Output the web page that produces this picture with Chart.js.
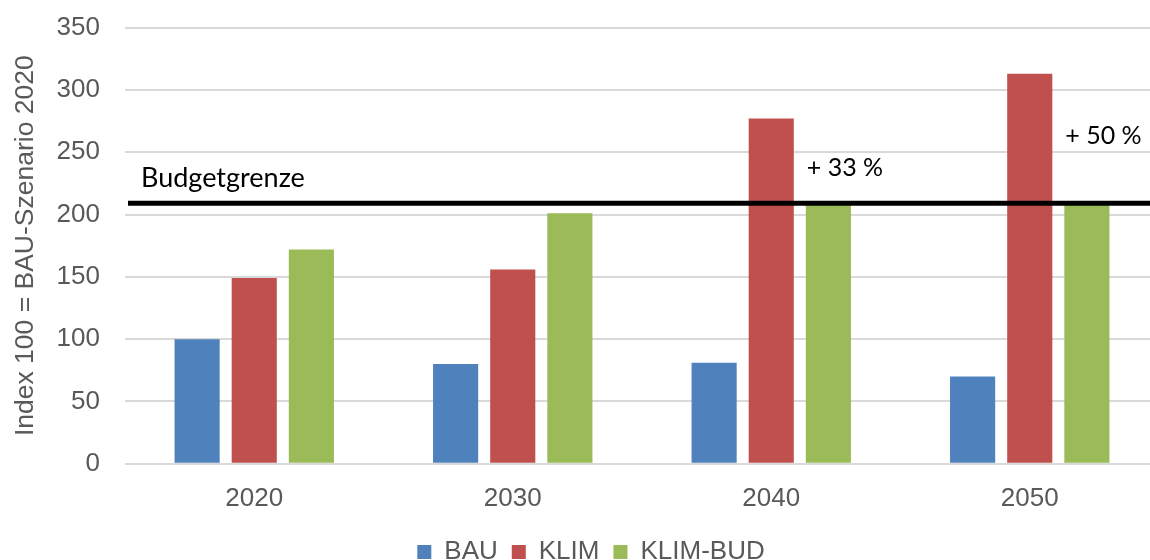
<!DOCTYPE html>
<html lang="de">
<head>
<meta charset="utf-8">
<title>Index BAU / KLIM / KLIM-BUD</title>
<script src="https://cdn.jsdelivr.net/npm/chart.js@4.4.1/dist/chart.umd.min.js"></script>
<style>
  html, body { margin: 0; padding: 0; background: #ffffff; overflow: hidden; }
  #frame { width: 1150px; height: 560px; overflow: hidden; position: relative; }
  #box { width: 1182px; height: 575px; position: absolute; left: 0; top: 0; }
</style>
</head>
<body>
<div id="frame"><div id="box"><canvas id="chart"></canvas></div></div>
<script>
// Jahre und Indexwerte (BAU-Szenario 2020 = 100)
const years = ['2020', '2030', '2040', '2050'];
const bau = [100, 80, 81, 70];
const klim = [149, 156, 277, 313];
const klimBud = [172, 201, 209, 209];
const budgetLimit = 209;
const yTicks = [0, 50, 100, 150, 200, 250, 300, 350];
const seriesNames = ['BAU', 'KLIM', 'KLIM-BUD'];
const seriesColors = ['#4F81BD', '#C0504D', '#9BBB59'];

const tickGrey = '#595959';
const axisFont = { family: '"Liberation Sans", Arial, sans-serif', size: 26 };

// Budgetgrenze als waagrechte Linie, dazu die Überschreitung von KLIM in Prozent
const budgetPlugin = {
  id: 'budgetLine',
  afterDatasetsDraw(chart, args, opts) {
    const { ctx, chartArea, scales } = chart;
    const y = scales.y.getPixelForValue(opts.value);
    ctx.save();
    ctx.strokeStyle = '#000000';
    ctx.lineWidth = 5;
    ctx.beginPath();
    ctx.moveTo(chartArea.left + 3, y);
    ctx.lineTo(chartArea.right, y);
    ctx.stroke();

    ctx.fillStyle = '#000000';
    ctx.textBaseline = 'alphabetic';
    ctx.textAlign = 'left';
    ctx.font = '27px Lato, "Open Sans", sans-serif';
    ctx.fillText(opts.label, chartArea.left + 16, y - 16);

    // Prozentangaben neben den KLIM-Säulen, die über der Grenze liegen
    const budBars = chart.getDatasetMeta(2).data;
    ctx.font = '25px Lato, "Open Sans", sans-serif';
    ctx.textBaseline = 'middle';
    klim.forEach((v, i) => {
      if (v <= opts.value) return;
      const pct = Math.round((v / opts.value - 1) * 100);
      const bar = budBars[i];
      const x = bar.x - bar.width / 2 + 1;
      const yMid = scales.y.getPixelForValue((v + opts.value) / 2);
      ctx.fillText('+ ' + pct + ' %', x, yMid + opts.labelShift[i]);
    });
    ctx.restore();
  }
};

new Chart(document.getElementById('chart'), {
  type: 'bar',
  data: {
    labels: years,
    datasets: [bau, klim, klimBud].map((vals, i) => ({
      label: seriesNames[i],
      data: vals,
      backgroundColor: seriesColors[i],
      borderWidth: 0,
      categoryPercentage: 0.663,
      barPercentage: 0.79
    }))
  },
  options: {
    responsive: true,
    maintainAspectRatio: false,
    animation: false,
    devicePixelRatio: 1,
    layout: { padding: { left: 23, right: 23, top: 0, bottom: 0 } },
    plugins: {
      legend: {
        position: 'bottom',
        labels: {
          boxWidth: 14,
          boxHeight: 14,
          padding: 14,
          color: tickGrey,
          font: axisFont
        }
      },
      tooltip: { enabled: false },
      budgetLine: { value: budgetLimit, label: 'Budgetgrenze', labelShift: [0, 0, 7, -3] }
    },
    scales: {
      x: {
        grid: { display: false },
        border: { display: false },
        ticks: { color: tickGrey, font: axisFont, padding: 11 }
      },
      y: {
        min: 0,
        max: 350,
        afterBuildTicks(scale) { scale.ticks = yTicks.map(v => ({ value: v })); },
        afterFit(scale) { scale.width = 102; },
        grid: {
          color: '#d9d9d9',
          lineWidth: 2,
          drawTicks: true,
          tickLength: 13,
          tickColor: 'rgba(0,0,0,0)'
        },
        border: { display: false },
        ticks: { color: tickGrey, font: axisFont, padding: 12 },
        title: {
          display: true,
          text: 'Index 100 = BAU-Szenario 2020',
          color: tickGrey,
          font: { family: axisFont.family, size: 26.5 },
          padding: { top: -13, bottom: 0 }
        }
      }
    }
  },
  plugins: [budgetPlugin]
});
</script>
</body>
</html>
